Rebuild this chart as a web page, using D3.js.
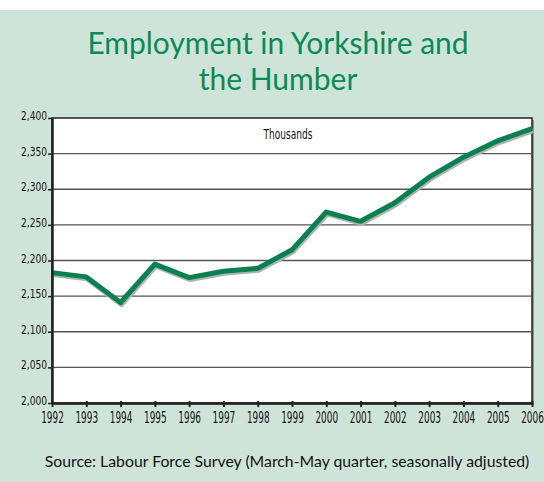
<!DOCTYPE html>
<html>
<head>
<meta charset="utf-8">
<script src="https://cdn.jsdelivr.net/npm/d3@7"></script>
<style>
  body { margin: 0; background: #fff; }
  .tick text { font-family: "DejaVu Sans", sans-serif; }
</style>
</head>
<body>
<div id="chart"></div>
<script>
var years = [1992, 1993, 1994, 1995, 1996, 1997, 1998, 1999, 2000, 2001, 2002, 2003, 2004, 2005, 2006];
var employment = [2183, 2177, 2141, 2195, 2176, 2185, 2189, 2215, 2268, 2255, 2281, 2317, 2345, 2368, 2385];
var yTicks = [2000, 2050, 2100, 2150, 2200, 2250, 2300, 2350, 2400];

function init() {
    var w = 544;
    var h = 482;
    var left = 52, right = 532, top = 118, bottom = 403;
    // fake a condensed face by squeezing horizontally
    var xSqueeze = 0.54, ySqueeze = 0.7, tSqueeze = 0.67;

    var svg = d3.select("#chart")
        .append("svg")
        .attr("width", w)
        .attr("height", h);

    // panel background
    svg.append("rect")
        .attr("x", 0).attr("y", 10)
        .attr("width", w).attr("height", h - 10)
        .attr("fill", "#cfe4d9");

    var title = svg.append("text")
        .attr("text-anchor", "middle")
        .attr("fill", "#0b8a55")
        .style("font-family", "Lato, 'Noto Sans', sans-serif")
        .style("font-size", "30px");
    title.append("tspan").attr("x", 278).attr("y", 54).text("Employment in Yorkshire and");
    title.append("tspan").attr("x", 278).attr("y", 90).text("the Humber");

    var xScale = d3.scaleLinear()
        .domain([1992, 2006])
        .range([left, right]);

    var yScale = d3.scaleLinear()
        .domain([2000, 2400])
        .range([bottom, top]);

    // plot background with shadow
    svg.append("rect")
        .attr("x", left + 2).attr("y", top + 2)
        .attr("width", right - left).attr("height", bottom - top)
        .attr("fill", "#8a9a92");
    svg.append("rect")
        .attr("x", left).attr("y", top)
        .attr("width", right - left).attr("height", bottom - top)
        .attr("fill", "#fff")
        .attr("stroke", "#222")
        .attr("stroke-width", 1.5);

    // gridlines
    svg.append("g")
        .selectAll("line")
        .data(yTicks.slice(1, -1))
        .join("line")
        .attr("x1", left).attr("x2", right)
        .attr("y1", function (d) { return yScale(d); })
        .attr("y2", function (d) { return yScale(d); })
        .attr("stroke", "#555")
        .attr("stroke-width", 1.3);

    svg.append("text")
        .attr("transform", "translate(288,139) scale(" + tSqueeze + ",1)")
        .attr("text-anchor", "middle")
        .style("font-family", "'DejaVu Sans', sans-serif")
        .style("font-size", "13.5px")
        .attr("fill", "#111")
        .text("Thousands");

    var line = d3.line()
        .x(function (d, i) { return xScale(years[i]); })
        .y(function (d) { return yScale(d); });

    // shadow of line
    svg.append("path")
        .datum(employment)
        .attr("d", line)
        .attr("transform", "translate(1,2)")
        .attr("fill", "none")
        .attr("stroke", "#a9b5ae")
        .attr("stroke-width", 5)
        .attr("stroke-linejoin", "round");

    svg.append("path")
        .datum(employment)
        .attr("d", line)
        .attr("fill", "none")
        .attr("stroke", "#0a8050")
        .attr("stroke-width", 5)
        .attr("stroke-linejoin", "round");

    var xAxis = d3.axisBottom(xScale)
        .tickValues(years)
        .tickFormat(d3.format("d"))
        .tickSize(5)
        .tickSizeOuter(0);
    var gx = svg.append("g")
        .attr("transform", "translate(0," + bottom + ")")
        .call(xAxis);
    gx.select(".domain").attr("stroke", "#222").attr("stroke-width", 2.5);
    gx.selectAll(".tick line").attr("stroke", "#222").attr("stroke-width", 2).attr("y1", -2).attr("y2", 4);
    gx.selectAll(".tick text")
        .attr("y", 9)
        .attr("dy", "0.68em")
        .attr("transform", "scale(" + xSqueeze + ",1)")
        .style("font-size", "16.5px")
        .attr("fill", "#111");

    var yAxis = d3.axisLeft(yScale)
        .tickValues(yTicks)
        .tickFormat(d3.format(","))
        .tickSize(4)
        .tickSizeOuter(0);
    var gy = svg.append("g")
        .attr("transform", "translate(" + left + ",0)")
        .call(yAxis);
    gy.select(".domain").attr("stroke", "#222").attr("stroke-width", 2.5);
    gy.selectAll(".tick line").attr("stroke", "#222").attr("stroke-width", 1.5);
    gy.selectAll(".tick text")
        .attr("x", -5 / ySqueeze)
        .attr("dy", "0.12em")
        .attr("transform", "scale(" + ySqueeze + ",1)")
        .style("font-size", "13px")
        .attr("fill", "#111");

    svg.append("text")
        .attr("x", 287).attr("y", 467)
        .attr("text-anchor", "middle")
        .attr("fill", "#111")
        .style("font-family", "Lato, 'Noto Sans', sans-serif")
        .style("font-size", "15.8px")
        .text("Source: Labour Force Survey (March-May quarter, seasonally adjusted)");
}

window.onload = init;
</script>
</body>
</html>
